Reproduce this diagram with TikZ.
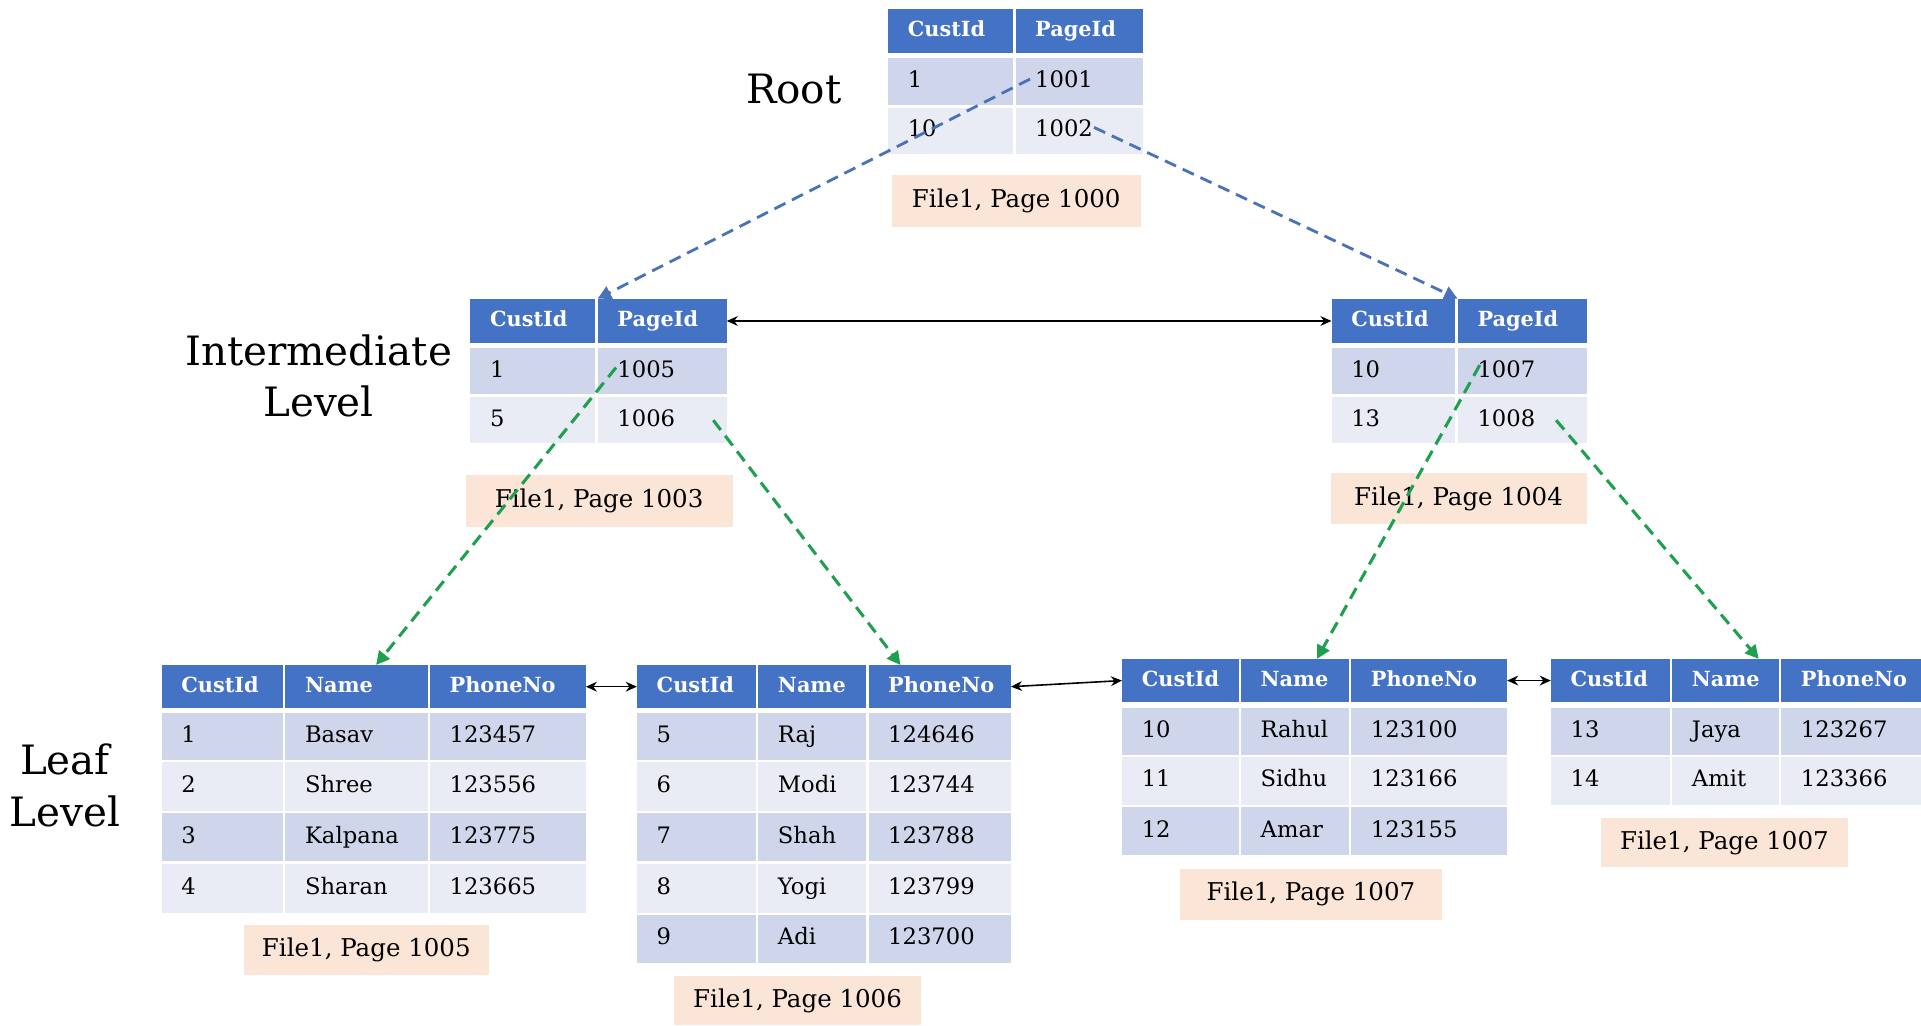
\documentclass[tikz,border=0pt]{standalone}
\usepackage{fontspec}
\setmainfont{DejaVu Serif}
\usetikzlibrary{arrows.meta,calc}
\definecolor{hdrblue}{HTML}{4472C4}
\definecolor{rowdark}{HTML}{CFD5EA}
\definecolor{rowlight}{HTML}{E9EBF5}
\definecolor{peach}{HTML}{FBE5D6}
\definecolor{bluedash}{HTML}{4A72B8}
\definecolor{greendash}{HTML}{1FA04F}
\newcommand{\tcell}[7]{%
 \pgfmathsetmacro{\tcW}{#3-#2}\pgfmathsetmacro{\tcH}{#5-#4}\pgfmathsetmacro{\tcT}{#3-#2-32}%
 \node[#6, minimum width=\tcW pt, minimum height=\tcH pt, text width=\tcT pt] (#1) at ({(#2+#3)/2},{(#4+#5)/2}) {#7};}
\newcommand{\lcell}[6]{%
 \pgfmathsetmacro{\tcW}{#3-#2}\pgfmathsetmacro{\tcH}{#5-#4}%
 \node[lbl, minimum width=\tcW pt, minimum height=\tcH pt] (#1) at ({(#2+#3)/2},{(#4+#5)/2}) {#6};}
\begin{document}
\begin{tikzpicture}[x=1pt,y=-1pt,
 cellbase/.style={rectangle, inner xsep=16pt, inner ysep=0pt, align=left, text height=13.5pt, text depth=4pt},
 hdr/.style={cellbase, fill=hdrblue, text=white, font=\fontsize{17}{19}\selectfont\bfseries},
 rd/.style={cellbase, fill=rowdark, font=\fontsize{18.5}{21}\selectfont},
 rl/.style={cellbase, fill=rowlight, font=\fontsize{18.5}{21}\selectfont},
 lbl/.style={rectangle, fill=peach, inner sep=0pt, font=\fontsize{20}{22}\selectfont},
 lvl/.style={align=center, font=\fontsize{33}{42}\selectfont},
 bluearr/.style={draw=bluedash, line width=2.3pt, dash pattern=on 10pt off 6pt, -{Triangle[length=11pt,width=11pt]}},
 greenarr/.style={draw=greendash, line width=2.5pt, dash pattern=on 10pt off 6pt, -{Triangle[length=11pt,width=11pt]}},
 linkarr/.style={draw=black, line width=1.3pt, {Stealth[length=9pt,width=8pt]}-{Stealth[length=9pt,width=8pt]}}
]
\useasboundingbox (0,0) rectangle (1568,837);
\fill[white] (0,0) rectangle (1568,837);

% level labels
\node[lvl] (lroot) at (648,73) {Root};
\node[lvl] (linter) at (260,307) {Intermediate\\Level};
\node[lvl] (lleaf) at (53,641) {Leaf\\Level};

% root
\tcell{r-h1}{725}{827}{7}{43}{hdr}{CustId}
\tcell{r-h2}{829}{933}{7}{43}{hdr}{PageId}
\tcell{r-r1a}{725}{827}{47}{86}{rd}{1}
\tcell{r-r1b}{829}{933}{47}{86}{rd}{1001}
\tcell{r-r2a}{725}{827}{88}{126}{rl}{10}
\tcell{r-r2b}{829}{933}{88}{126}{rl}{1002}
\lcell{r-lab}{728}{931}{143}{185}{File1, Page 1000}

% intermediate left
\tcell{il-h1}{384}{486}{244}{280}{hdr}{CustId}
\tcell{il-h2}{488}{593}{244}{280}{hdr}{PageId}
\tcell{il-r1a}{384}{486}{284}{322}{rd}{1}
\tcell{il-r1b}{488}{593}{284}{322}{rd}{1005}
\tcell{il-r2a}{384}{486}{324}{362}{rl}{5}
\tcell{il-r2b}{488}{593}{324}{362}{rl}{1006}
\lcell{il-lab}{380}{598}{388}{430}{File1, Page 1003}

% intermediate right
\tcell{ir-h1}{1087}{1188}{244}{280}{hdr}{CustId}
\tcell{ir-h2}{1190}{1295}{244}{280}{hdr}{PageId}
\tcell{ir-r1a}{1087}{1188}{284}{322}{rd}{10}
\tcell{ir-r1b}{1190}{1295}{284}{322}{rd}{1007}
\tcell{ir-r2a}{1087}{1188}{324}{362}{rl}{13}
\tcell{ir-r2b}{1190}{1295}{324}{362}{rl}{1008}
\lcell{ir-lab}{1086}{1295}{386}{428}{File1, Page 1004}

% leaf 1
\tcell{l1-h1}{132}{231}{543}{578}{hdr}{CustId}
\tcell{l1-h2}{233}{349}{543}{578}{hdr}{Name}
\tcell{l1-h3}{351}{478}{543}{578}{hdr}{PhoneNo}
\tcell{l1-1a}{132}{231}{582}{620}{rd}{1}
\tcell{l1-1b}{233}{349}{582}{620}{rd}{Basav}
\tcell{l1-1c}{351}{478}{582}{620}{rd}{123457}
\tcell{l1-2a}{132}{231}{622}{662}{rl}{2}
\tcell{l1-2b}{233}{349}{622}{662}{rl}{Shree}
\tcell{l1-2c}{351}{478}{622}{662}{rl}{123556}
\tcell{l1-3a}{132}{231}{664}{703}{rd}{3}
\tcell{l1-3b}{233}{349}{664}{703}{rd}{Kalpana}
\tcell{l1-3c}{351}{478}{664}{703}{rd}{123775}
\tcell{l1-4a}{132}{231}{705}{745}{rl}{4}
\tcell{l1-4b}{233}{349}{705}{745}{rl}{Sharan}
\tcell{l1-4c}{351}{478}{705}{745}{rl}{123665}
\lcell{l1-lab}{199}{399}{755}{796}{File1, Page 1005}

% leaf 2
\tcell{l2-h1}{520}{617}{543}{578}{hdr}{CustId}
\tcell{l2-h2}{619}{707}{543}{578}{hdr}{Name}
\tcell{l2-h3}{709}{825}{543}{578}{hdr}{PhoneNo}
\tcell{l2-1a}{520}{617}{582}{620}{rd}{5}
\tcell{l2-1b}{619}{707}{582}{620}{rd}{Raj}
\tcell{l2-1c}{709}{825}{582}{620}{rd}{124646}
\tcell{l2-2a}{520}{617}{622}{662}{rl}{6}
\tcell{l2-2b}{619}{707}{622}{662}{rl}{Modi}
\tcell{l2-2c}{709}{825}{622}{662}{rl}{123744}
\tcell{l2-3a}{520}{617}{664}{703}{rd}{7}
\tcell{l2-3b}{619}{707}{664}{703}{rd}{Shah}
\tcell{l2-3c}{709}{825}{664}{703}{rd}{123788}
\tcell{l2-4a}{520}{617}{705}{745}{rl}{8}
\tcell{l2-4b}{619}{707}{705}{745}{rl}{Yogi}
\tcell{l2-4c}{709}{825}{705}{745}{rl}{123799}
\tcell{l2-5a}{520}{617}{747}{786}{rd}{9}
\tcell{l2-5b}{619}{707}{747}{786}{rd}{Adi}
\tcell{l2-5c}{709}{825}{747}{786}{rd}{123700}
\lcell{l2-lab}{550}{752}{797}{837}{File1, Page 1006}

% leaf 3
\tcell{l3-h1}{916}{1011}{538}{573}{hdr}{CustId}
\tcell{l3-h2}{1013}{1101}{538}{573}{hdr}{Name}
\tcell{l3-h3}{1103}{1230}{538}{573}{hdr}{PhoneNo}
\tcell{l3-1a}{916}{1011}{578}{616}{rd}{10}
\tcell{l3-1b}{1013}{1101}{578}{616}{rd}{Rahul}
\tcell{l3-1c}{1103}{1230}{578}{616}{rd}{123100}
\tcell{l3-2a}{916}{1011}{618}{657}{rl}{11}
\tcell{l3-2b}{1013}{1101}{618}{657}{rl}{Sidhu}
\tcell{l3-2c}{1103}{1230}{618}{657}{rl}{123166}
\tcell{l3-3a}{916}{1011}{659}{698}{rd}{12}
\tcell{l3-3b}{1013}{1101}{659}{698}{rd}{Amar}
\tcell{l3-3c}{1103}{1230}{659}{698}{rd}{123155}
\lcell{l3-lab}{963}{1177}{709}{751}{File1, Page 1007}

% leaf 4
\tcell{l4-h1}{1266}{1363}{538}{573}{hdr}{CustId}
\tcell{l4-h2}{1365}{1452}{538}{573}{hdr}{Name}
\tcell{l4-h3}{1454}{1568}{538}{573}{hdr}{PhoneNo}
\tcell{l4-1a}{1266}{1363}{578}{616}{rd}{13}
\tcell{l4-1b}{1365}{1452}{578}{616}{rd}{Jaya}
\tcell{l4-1c}{1454}{1568}{578}{616}{rd}{123267}
\tcell{l4-2a}{1266}{1363}{618}{657}{rl}{14}
\tcell{l4-2b}{1365}{1452}{618}{657}{rl}{Amit}
\tcell{l4-2c}{1454}{1568}{618}{657}{rl}{123366}
\lcell{l4-lab}{1307}{1508}{668}{708}{File1, Page 1007}

% root -> intermediate (blue dashed)
\coordinate (sb1) at ([xshift=12pt,yshift=2pt]r-r1b.west);
\coordinate (sb2) at ([xshift=12pt,yshift=3pt]r-r2b.center);
\draw[bluearr] (sb1) -- (il-h2.north west);
\draw[bluearr] (sb2) -- (ir-h2.north west);

% intermediate -> leaf (green dashed)
\coordinate (sg1) at ([xshift=15pt,yshift=3pt]il-r1b.west);
\coordinate (sg2) at ([xshift=-11pt]il-r2b.east);
\coordinate (sg3) at ([xshift=18pt,yshift=5pt]ir-r1b.west);
\coordinate (sg4) at ([xshift=-25pt]ir-r2b.east);
\draw[greenarr] (sg1) -- ([xshift=16pt]l1-h2.north);
\draw[greenarr] (sg2) -- ([xshift=-32pt]l2-h3.north);
\draw[greenarr] (sg3) -- ([xshift=18pt]l3-h2.north);
\draw[greenarr] (sg4) -- ([xshift=27pt]l4-h2.north);

% sibling links
\draw[linkarr] (il-h2.east) -- (ir-h1.west);
\draw[linkarr] (l1-h3.east) -- (l2-h1.west);
\draw[linkarr] (l2-h3.east) -- (l3-h1.west);
\draw[linkarr] (l3-h3.east) -- (l4-h1.west);
\end{tikzpicture}
\end{document}
